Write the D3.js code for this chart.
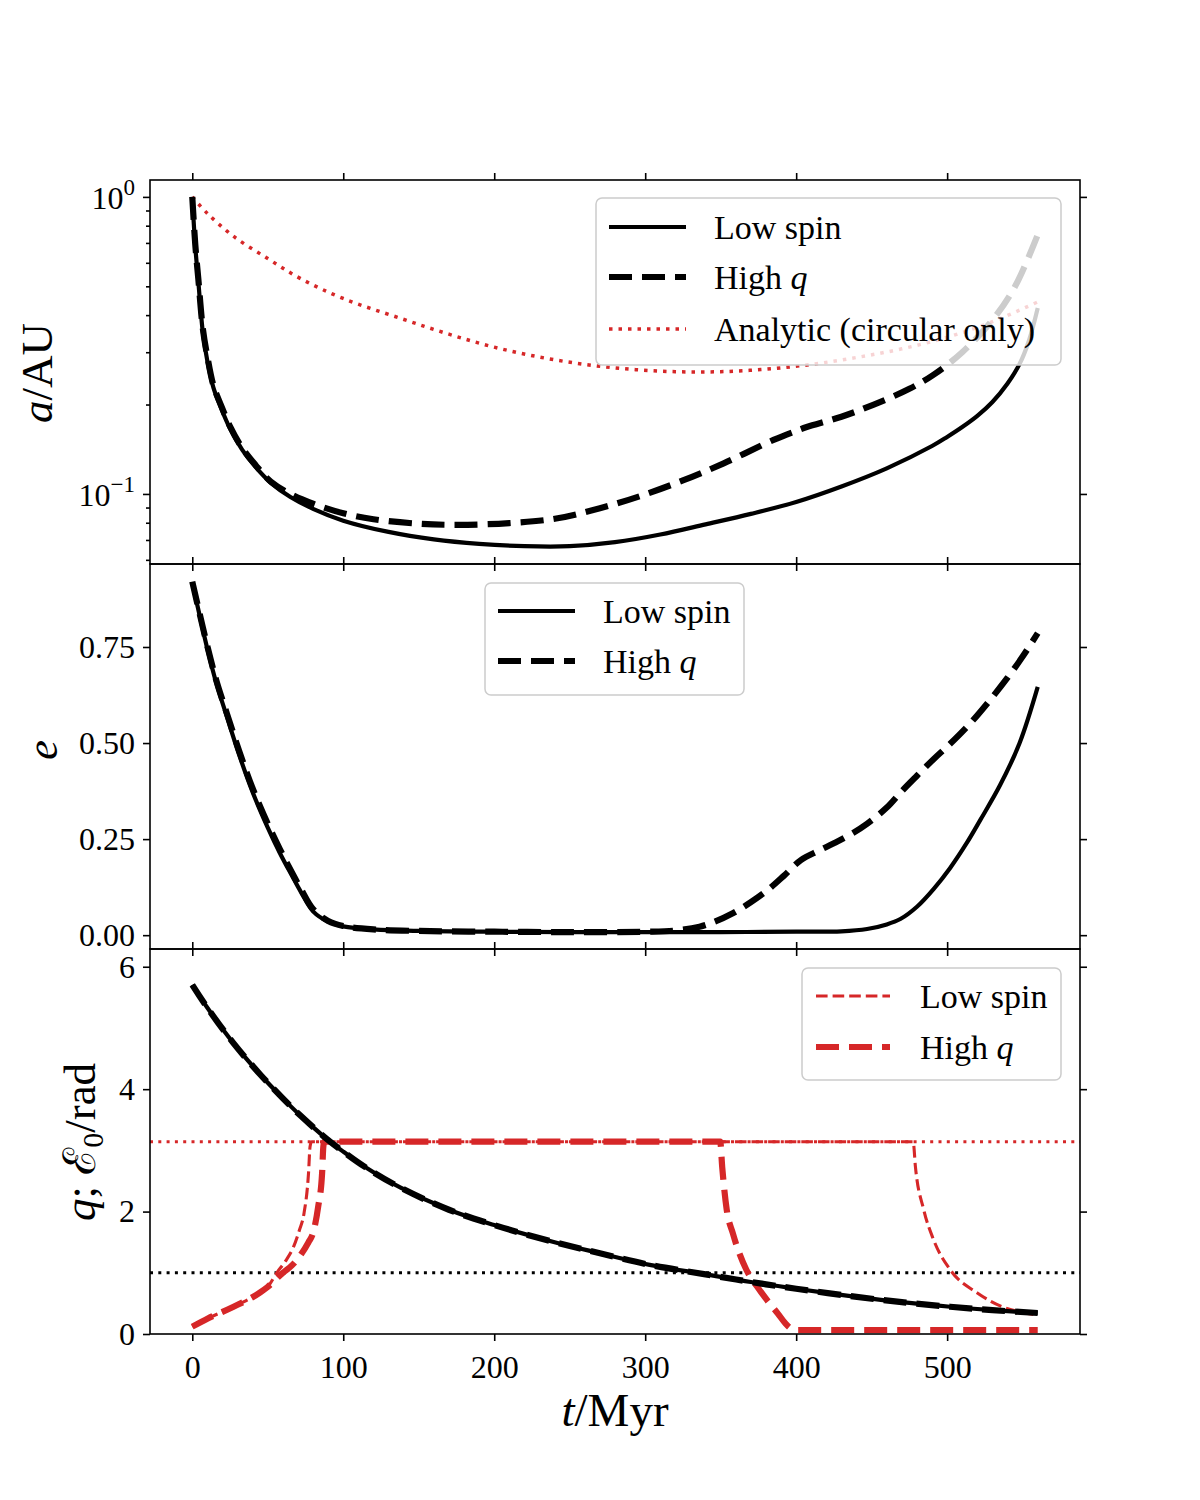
<!DOCTYPE html>
<html>
<head>
<meta charset="utf-8">
<script src="https://cdn.jsdelivr.net/npm/d3@7"></script>
<style>
  body { margin: 0; background: #fff; }
  svg { font-family: "Liberation Serif", "DejaVu Serif", serif; }
</style>
</head>
<body>
<div id="chart"></div>
<script>
// ---- data ----
var timeTicks = [0, 100, 200, 300, 400, 500];
var aTicks = [0.1, 1];
var aMinorTicks = [0.06, 0.07, 0.08, 0.09, 0.2, 0.3, 0.4, 0.5, 0.6, 0.7, 0.8, 0.9];
var eTicks = [0, 0.25, 0.5, 0.75];
var qTicks = [0, 2, 4, 6];

// semi-major axis, low spin
var tALow = [0, 2, 4, 7, 10, 14, 19, 25, 33, 42, 52, 65, 80, 100, 130, 160, 190, 220, 250, 280, 310, 340, 370, 400, 430, 460, 490, 500, 510, 520, 530, 540, 548, 554, 560];
var aLow = [1.0, 0.68, 0.52, 0.35, 0.28, 0.228, 0.195, 0.166, 0.141, 0.123, 0.109, 0.0977, 0.0891, 0.0813, 0.0745, 0.0703, 0.0679, 0.0667, 0.0667, 0.0688, 0.073, 0.079, 0.0857, 0.094, 0.106, 0.122, 0.145, 0.1556, 0.168, 0.1832, 0.204, 0.2355, 0.274, 0.326, 0.423];
// semi-major axis, high q
var tAHigh = [0, 2, 4, 7, 10, 14, 19, 25, 33, 42, 52, 65, 80, 100, 120, 150, 176, 210, 242, 270, 297, 325, 352, 385, 400, 407, 430, 451, 475, 491, 510, 530, 545, 560];
var aHigh = [1.0, 0.69, 0.53, 0.36, 0.29, 0.232, 0.199, 0.169, 0.143, 0.125, 0.110, 0.100, 0.0927, 0.0861, 0.0822, 0.0794, 0.0787, 0.0798, 0.0828, 0.0895, 0.0985, 0.111, 0.1268, 0.152, 0.163, 0.168, 0.182, 0.1995, 0.226, 0.252, 0.300, 0.385, 0.50, 0.745];
// analytic, circular only
var tAnalytic = [0, 10, 27, 50, 72, 100, 138, 170, 200, 230, 260, 290, 320, 350, 380, 410, 440, 470, 500, 530, 560];
var aAnalytic = [1.0, 0.88, 0.739, 0.62, 0.53, 0.455, 0.39, 0.345, 0.312, 0.289, 0.273, 0.263, 0.258, 0.258, 0.263, 0.273, 0.288, 0.308, 0.337, 0.38, 0.443];

// eccentricity
var tELow = [0, 5, 10, 16, 23, 31, 40, 50, 58, 66, 72, 80, 90, 100, 120, 150, 200, 250, 300, 350, 400, 430, 447, 460, 469, 480, 491, 502, 513, 522, 535, 548, 560];
var eLow = [0.917, 0.83, 0.745, 0.655, 0.568, 0.47, 0.372, 0.28, 0.214, 0.155, 0.112, 0.062, 0.035, 0.023, 0.015, 0.011, 0.009, 0.008, 0.008, 0.008, 0.009, 0.010, 0.016, 0.028, 0.042, 0.074, 0.12, 0.175, 0.24, 0.30, 0.39, 0.50, 0.646];
var tEHigh = [0, 5, 10, 16, 23, 31, 40, 50, 58, 66, 72, 80, 90, 100, 120, 150, 200, 250, 300, 320, 336, 346, 358, 370, 381, 392, 403, 415, 425, 436, 447, 460, 470, 480, 491, 502, 515, 528, 540, 550, 560];
var eHigh = [0.92, 0.835, 0.752, 0.662, 0.576, 0.48, 0.382, 0.29, 0.224, 0.163, 0.12, 0.068, 0.037, 0.024, 0.015, 0.011, 0.009, 0.008, 0.009, 0.012, 0.022, 0.035, 0.057, 0.086, 0.117, 0.155, 0.195, 0.22, 0.239, 0.262, 0.29, 0.332, 0.375, 0.415, 0.458, 0.498, 0.55, 0.61, 0.67, 0.725, 0.786];

// q (black) and E0 (red)
var tQ = [0, 10, 27, 45, 60, 72, 88, 100, 115, 138, 170, 200, 240, 270, 303, 340, 370, 400, 436, 470, 502, 530, 560];
var qLow = [5.705, 5.33, 4.76, 4.24, 3.85, 3.56, 3.21, 2.98, 2.72, 2.39, 2.03, 1.78, 1.50, 1.32, 1.13, 0.975, 0.85, 0.74, 0.62, 0.52, 0.445, 0.39, 0.343];
var qHigh = [5.705, 5.33, 4.76, 4.24, 3.85, 3.56, 3.21, 2.98, 2.72, 2.39, 2.03, 1.78, 1.50, 1.32, 1.13, 0.975, 0.85, 0.74, 0.62, 0.52, 0.445, 0.39, 0.343];
var tE0Low = [0, 10, 27, 45, 50, 56, 62, 67, 71, 74, 77, 78, 79, 200, 350, 477.5, 479, 484.5, 491, 502, 520, 537, 550, 560];
var e0Low = [0.12, 0.25, 0.44, 0.68, 0.77, 1.0, 1.2, 1.42, 1.7, 1.97, 2.63, 3.06, Math.PI, Math.PI, Math.PI, Math.PI, 2.73, 2.03, 1.54, 1.05, 0.67, 0.44, 0.35, 0.31];
var tE0High = [0, 10, 27, 45, 50, 60, 66, 72, 77, 80, 83.4, 86, 86.8, 87.5, 200, 349.7, 351, 354, 358, 367, 374, 380.5, 388, 393, 396, 400, 480, 560];
var e0High = [0.12, 0.25, 0.44, 0.68, 0.77, 1.0, 1.12, 1.3, 1.5, 1.65, 2.08, 2.63, 3.06, Math.PI, Math.PI, Math.PI, 2.73, 2.03, 1.65, 1.05, 0.78, 0.56, 0.33, 0.17, 0.1, 0.065, 0.065, 0.065];
var piLevel = Math.PI;
var unitLevel = 1;

// ---- layout ----
var width = 1200, height = 1500;
var left = 150, right = 1080;
var red = "#d62728";
var tickFont = 32, labelFont = 45, legendFont = 34;

var svg = d3.select("#chart").append("svg")
    .attr("width", width)
    .attr("height", height);

var x = d3.scaleLinear().domain([-28, 588]).range([left, right]);

var panels = [
    {top: 180, bottom: 564, y: d3.scaleLog().domain([0.0581, 1.14]).range([564, 180])},
    {top: 564, bottom: 949, y: d3.scaleLinear().domain([-0.036, 0.966]).range([949, 564])},
    {top: 949, bottom: 1334, y: d3.scaleLinear().domain([0, 6.29]).range([1334, 949])}
];

panels.forEach(function(p, i) {
    svg.append("clipPath").attr("id", "clip" + i)
        .append("rect")
        .attr("x", left).attr("y", p.top)
        .attr("width", right - left).attr("height", p.bottom - p.top);
});

function series(ts, vs) {
    return ts.map(function(t, i) { return [t, vs[i]]; });
}

// smooth curves go through catmull-rom, the ones with sharp corners stay monotone
function drawLine(i, data, color, w, dash, sharp) {
    var p = panels[i];
    var line = d3.line()
        .x(function(d) { return x(d[0]); })
        .y(function(d) { return p.y(d[1]); })
        .curve(sharp ? d3.curveMonotoneX : d3.curveCatmullRom.alpha(0.5));
    svg.append("path")
        .attr("clip-path", "url(#clip" + i + ")")
        .attr("d", line(data))
        .attr("fill", "none")
        .attr("stroke", color)
        .attr("stroke-width", w)
        .attr("stroke-dasharray", dash || null)
        .attr("stroke-linejoin", "round");
}

function hLine(i, v, color, w, dash) {
    var p = panels[i];
    svg.append("line")
        .attr("x1", left).attr("x2", right)
        .attr("y1", p.y(v)).attr("y2", p.y(v))
        .attr("stroke", color)
        .attr("stroke-width", w)
        .attr("stroke-dasharray", dash);
}

var solidW = 4.2, thickW = 6.2, thinW = 3.1;
var thickDash = "23,10", thinDash = "11.6,5", dotDash = "3.5,6", fineDot = "3,5.3";

// panel 1: a
drawLine(0, series(tAnalytic, aAnalytic), red, 3.5, dotDash);
drawLine(0, series(tALow, aLow), "#000", solidW);
drawLine(0, series(tAHigh, aHigh), "#000", thickW, thickDash);

// panel 2: e
drawLine(1, series(tELow, eLow), "#000", solidW);
drawLine(1, series(tEHigh, eHigh), "#000", thickW, thickDash);

// panel 3: q and E0
hLine(2, piLevel, red, 3, fineDot);
hLine(2, unitLevel, "#000", 3, fineDot);
drawLine(2, series(tE0Low, e0Low), red, thinW, thinDash, true);
drawLine(2, series(tE0High, e0High), red, thickW, thickDash, true);
drawLine(2, series(tQ, qLow), "#000", solidW);
drawLine(2, series(tQ, qHigh), "#000", thickW, thickDash);

// ---- axes ----
function styleAxis(g) {
    g.select(".domain").remove();
    g.selectAll(".tick line").attr("stroke", "#000").attr("stroke-width", 1.6);
    g.selectAll(".tick text")
        .attr("font-size", tickFont)
        .attr("font-family", "Liberation Serif, DejaVu Serif, serif")
        .attr("fill", "#000");
}

panels.forEach(function(p, i) {
    var last = i === panels.length - 1;
    svg.append("g").attr("transform", "translate(0," + p.bottom + ")")
        .call(d3.axisBottom(x).tickValues(timeTicks).tickSize(7).tickSizeOuter(0).tickPadding(8)
            .tickFormat(last ? d3.format("d") : function() { return ""; }))
        .call(styleAxis)
        .selectAll(".tick text").attr("dy", "0.9em");
    svg.append("g").attr("transform", "translate(0," + p.top + ")")
        .call(d3.axisTop(x).tickValues(timeTicks).tickSize(7).tickSizeOuter(0).tickFormat(function() { return ""; }))
        .call(styleAxis);

    var yTicks = i === 0 ? aTicks : (i === 1 ? eTicks : qTicks);
    var yFmt = i === 1 ? d3.format(".2f") : (i === 2 ? d3.format("d") : function() { return ""; });
    svg.append("g").attr("transform", "translate(" + left + ",0)")
        .call(d3.axisLeft(p.y).tickValues(yTicks).tickSize(7).tickSizeOuter(0).tickPadding(8).tickFormat(yFmt))
        .call(styleAxis);
    svg.append("g").attr("transform", "translate(" + right + ",0)")
        .call(d3.axisRight(p.y).tickValues(yTicks).tickSize(7).tickSizeOuter(0).tickFormat(function() { return ""; }))
        .call(styleAxis);

    svg.append("rect")
        .attr("x", left).attr("y", p.top)
        .attr("width", right - left).attr("height", p.bottom - p.top)
        .attr("fill", "none").attr("stroke", "#000").attr("stroke-width", 1.6);
});

// log minor ticks and power labels on the a panel
svg.append("g").attr("transform", "translate(" + left + ",0)")
    .call(d3.axisLeft(panels[0].y).tickValues(aMinorTicks).tickSize(4).tickSizeOuter(0).tickFormat(function() { return ""; }))
    .call(styleAxis);

var powLabels = svg.append("g");
aTicks.forEach(function(v) {
    var t = powLabels.append("text")
        .attr("x", left - 15)
        .attr("y", panels[0].y(v) + 12)
        .attr("text-anchor", "end")
        .attr("font-size", tickFont);
    t.append("tspan").text("10");
    t.append("tspan").attr("dy", -14).attr("font-size", 23).text(String(Math.round(Math.log10(v))).replace("-", "\u2212"));
});

// ---- axis labels ----
var xl = svg.append("text")
    .attr("x", (left + right) / 2).attr("y", 1426)
    .attr("text-anchor", "middle")
    .attr("font-size", 47);
xl.append("tspan").attr("font-style", "italic").text("t");
xl.append("tspan").text("/Myr");

function yLabel(cx, cy) {
    return svg.append("text")
        .attr("transform", "translate(" + cx + "," + cy + ") rotate(-90)")
        .attr("text-anchor", "middle")
        .attr("font-size", labelFont);
}
var yl0 = yLabel(52, 373);
yl0.append("tspan").attr("font-style", "italic").text("a");
yl0.append("tspan").text("/AU");
var yl1 = yLabel(57, 750);
yl1.append("tspan").attr("font-style", "italic").text("e");
var yl2 = yLabel(95, 1142);
yl2.append("tspan").attr("font-style", "italic").text("q");
yl2.append("tspan").text("; \u2130");
yl2.append("tspan").attr("dy", 8).attr("font-size", 30).text("0");
yl2.append("tspan").attr("dy", -8).text("/rad");

// ---- legends ----
function legend(box, lineX0, lineX1, textX, rows) {
    svg.append("rect")
        .attr("x", box[0]).attr("y", box[1])
        .attr("width", box[2] - box[0]).attr("height", box[3] - box[1])
        .attr("rx", 6)
        .attr("fill", "#fff").attr("fill-opacity", 0.8)
        .attr("stroke", "#cccccc").attr("stroke-width", 1.5);
    rows.forEach(function(r) {
        svg.append("line")
            .attr("x1", lineX0).attr("x2", lineX1)
            .attr("y1", r.y).attr("y2", r.y)
            .attr("stroke", r.color).attr("stroke-width", r.w)
            .attr("stroke-dasharray", r.dash || null);
        var t = svg.append("text")
            .attr("x", textX).attr("y", r.y + 12)
            .attr("font-size", legendFont);
        t.append("tspan").text(r.label);
        if (r.math) t.append("tspan").attr("font-style", "italic").text(" " + r.math);
    });
}

legend([596, 198, 1061, 365], 609, 686, 714, [
    {y: 227, color: "#000", w: solidW, label: "Low spin"},
    {y: 277, color: "#000", w: thickW, dash: thickDash, label: "High", math: "q"},
    {y: 329, color: red, w: 3.5, dash: dotDash, label: "Analytic (circular only)"}
]);
legend([485, 583, 744, 695], 498, 575, 603, [
    {y: 611, color: "#000", w: solidW, label: "Low spin"},
    {y: 661, color: "#000", w: thickW, dash: thickDash, label: "High", math: "q"}
]);
legend([802, 968, 1061, 1080], 816, 890, 920, [
    {y: 996, color: red, w: thinW, dash: thinDash, label: "Low spin"},
    {y: 1047, color: red, w: thickW, dash: thickDash, label: "High", math: "q"}
]);
</script>
</body>
</html>
